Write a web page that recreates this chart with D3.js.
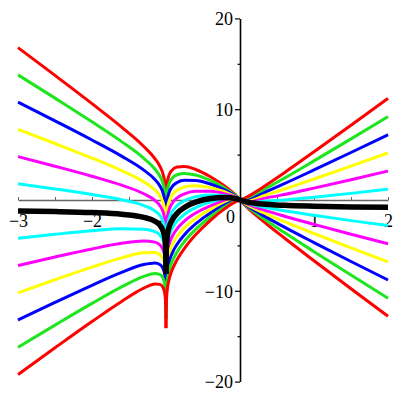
<!DOCTYPE html>
<html lang="en">
<head>
<meta charset="UTF-8">
<title>family of curves</title>
<script src="https://cdn.jsdelivr.net/npm/d3@7/dist/d3.min.js"></script>
<style>
    body { margin: 0; background: #fff; }
    text { font-family: "Liberation Serif", "Times New Roman", serif; font-size: 18px; fill: #000; }
</style>
</head>
<body>
<svg id="chart" width="400" height="400"></svg>
<script>
// sample abscissas (left branch x < -1, right branch x > -1)
var xValues = [-3, -2.5, -2, -1.6, -1.3, -1.15, -1.08, -1.04, -1.015, -1.004, -1.0003,
    -0.9997, -0.996, -0.985, -0.96, -0.92, -0.85, -0.75, -0.6, -0.4, -0.2, -0.05, 0, 0.1, 0.3, 0.6, 1, 1.5, 2];

// thick black curve
var black = [-1.22, -1.28, -1.39, -1.57, -1.91, -2.34, -2.81, -3.39, -4.28, -5.55, -8.11,
    -8.11, -5.50, -4.12, -3.05, -2.25, -1.47, -0.82, -0.24, 0.16, 0.28, 0.15, 0, -0.24, -0.44, -0.59, -0.69, -0.77, -0.81];

// curves that are high on the left and low on the right
var redA = [16.78, 13.72, 10.61, 8.03, 5.89, 4.56, 3.67, 2.85, 1.81, 0.47, -2.11,
    -2.11, 0.48, 1.79, 2.71, 3.27, 3.63, 3.68, 3.36, 2.56, 1.48, 0.45, 0, -0.84, -2.24, -4.19, -6.69, -9.77, -12.81];
var greenA = [13.78, 11.22, 8.61, 6.43, 4.59, 3.41, 2.59, 1.81, 0.80, -0.53, -3.11,
    -3.11, -0.52, 0.81, 1.75, 2.35, 2.78, 2.93, 2.76, 2.16, 1.28, 0.40, 0, -0.74, -1.94, -3.59, -5.69, -8.27, -10.81];
var blueA = [10.78, 8.72, 6.61, 4.83, 3.29, 2.26, 1.51, 0.77, -0.22, -1.53, -4.11,
    -4.11, -1.52, -0.18, 0.79, 1.43, 1.93, 2.18, 2.16, 1.76, 1.08, 0.35, 0, -0.64, -1.64, -2.99, -4.69, -6.77, -8.81];
var yellowA = [7.78, 6.22, 4.61, 3.23, 1.99, 1.11, 0.43, -0.27, -1.24, -2.54, -5.11,
    -5.11, -2.51, -1.17, -0.17, 0.51, 1.08, 1.43, 1.56, 1.36, 0.88, 0.30, 0, -0.54, -1.34, -2.39, -3.69, -5.27, -6.81];
var magentaA = [4.78, 3.72, 2.61, 1.63, 0.69, -0.04, -0.65, -1.31, -2.25, -3.54, -6.11,
    -6.11, -3.51, -2.15, -1.13, -0.41, 0.23, 0.68, 0.96, 0.96, 0.68, 0.25, 0, -0.44, -1.04, -1.79, -2.69, -3.77, -4.81];
var cyanA = [1.78, 1.22, 0.61, 0.03, -0.61, -1.19, -1.73, -2.35, -3.27, -4.55, -7.11,
    -7.11, -4.50, -3.14, -2.09, -1.33, -0.62, -0.07, 0.36, 0.56, 0.48, 0.20, 0, -0.34, -0.74, -1.19, -1.69, -2.27, -2.81];

// curves that are low on the left and high on the right
var cyanB = [-4.22, -3.78, -3.39, -3.17, -3.21, -3.49, -3.89, -4.43, -5.30, -6.55, -9.11,
    -9.11, -6.50, -5.11, -4.01, -3.17, -2.32, -1.57, -0.84, -0.24, 0.08, 0.10, 0, -0.14, -0.14, 0.01, 0.31, 0.73, 1.19];
var magentaB = [-7.22, -6.28, -5.39, -4.77, -4.51, -4.64, -4.97, -5.47, -6.31, -7.56, -10.11,
    -10.11, -7.49, -6.09, -4.97, -4.09, -3.17, -2.32, -1.44, -0.64, -0.12, 0.05, 0, -0.04, 0.16, 0.61, 1.31, 2.23, 3.19];
var yellowB = [-10.22, -8.78, -7.39, -6.37, -5.81, -5.79, -6.05, -6.51, -7.33, -8.56, -11.11,
    -11.11, -8.49, -7.08, -5.93, -5.01, -4.02, -3.07, -2.04, -1.04, -0.32, 0, 0, 0.06, 0.46, 1.21, 2.31, 3.73, 5.19];
var blueB = [-13.22, -11.28, -9.39, -7.97, -7.11, -6.94, -7.13, -7.55, -8.34, -9.57, -12.11,
    -12.11, -9.48, -8.06, -6.89, -5.93, -4.87, -3.82, -2.64, -1.44, -0.52, -0.05, 0, 0.16, 0.76, 1.81, 3.31, 5.23, 7.19];
var greenB = [-16.22, -13.78, -11.39, -9.57, -8.41, -8.09, -8.21, -8.59, -9.36, -10.57, -13.11,
    -13.11, -10.48, -9.05, -7.85, -6.85, -5.72, -4.57, -3.24, -1.84, -0.72, -0.10, 0, 0.26, 1.06, 2.41, 4.31, 6.73, 9.19];
var redB = [-19.22, -16.28, -13.39, -11.17, -9.71, -9.24, -9.29, -9.63, -10.37, -11.57, -14.11,
    -14.11, -11.48, -10.03, -8.81, -7.77, -6.57, -5.32, -3.84, -2.24, -0.92, -0.15, 0, 0.36, 1.36, 3.01, 5.31, 8.23, 11.19];

var xTicks = [-3, -2.5, -2, -1.5, -1, -0.5, 0, 0.5, 1, 1.5, 2];
var yTicks = [-20, -15, -10, -5, 0, 5, 10, 15, 20];

var svg = d3.select("#chart");

var x = d3.scaleLinear().domain([-3, 2]).range([18, 388]);
var y = d3.scaleLinear().domain([-20, 20]).range([381.6, 18.4]);

// x axis (ticks pointing up, labels below)
var xAxis = svg.append("g")
    .attr("transform", "translate(0," + y(0) + ")")
    .call(d3.axisBottom(x)
        .tickValues(xTicks)
        .tickSizeInner(-3)
        .tickSizeOuter(0)
        .tickPadding(14)
        .tickFormat(function (d) {
            return (d === 0 || d % 1 !== 0) ? "" : d3.format("d")(d);
        }));
xAxis.select(".domain").attr("stroke", "#666").attr("stroke-width", 1.3);
xAxis.selectAll(".tick line").attr("stroke", "#666");
xAxis.selectAll("text").style("font-size", "18px").attr("fill", "#000");

// y axis
var yAxis = svg.append("g")
    .attr("transform", "translate(" + x(0) + ",0)")
    .call(d3.axisLeft(y)
        .tickValues(yTicks)
        .tickSizeInner(5)
        .tickSizeOuter(0)
        .tickPadding(2)
        .tickFormat(function (d) {
            return (d % 10 === 0 && d !== 0) ? d3.format("d")(d) : "";
        }));
yAxis.select(".domain").attr("stroke", "#000").attr("stroke-width", 1.6);
yAxis.selectAll(".tick line")
    .attr("stroke-width", 1.2)
    .attr("x2", function (d) { return d % 10 === 0 ? -5 : -2.5; });
yAxis.selectAll("text").style("font-size", "18px").attr("fill", "#000").attr("dy", "0.35em");

svg.append("text")
    .attr("x", x(0) - 5)
    .attr("y", y(0) + 23)
    .attr("text-anchor", "end")
    .text("0");

// curves
var series = [
    {y: redA, color: "#ff0000", width: 3},
    {y: greenA, color: "#1ee61e", width: 3},
    {y: blueA, color: "#0000ff", width: 3},
    {y: yellowA, color: "#ffff00", width: 3},
    {y: magentaA, color: "#ff00ff", width: 3},
    {y: cyanA, color: "#00ffff", width: 3},
    {y: cyanB, color: "#00ffff", width: 3},
    {y: magentaB, color: "#ff00ff", width: 3},
    {y: yellowB, color: "#ffff00", width: 3},
    {y: blueB, color: "#0000ff", width: 3},
    {y: greenB, color: "#1ee61e", width: 3},
    {y: redB, color: "#ff0000", width: 3},
    {y: black, color: "#000000", width: 5.5}
];

var line = d3.line()
    .x(function (d) { return x(d[0]); })
    .y(function (d) { return y(d[1]); })
    .curve(d3.curveMonotoneX);

series.forEach(function (s) {
    var pts = xValues.map(function (v, i) { return [v, s.y[i]]; });
    var branches = [
        pts.filter(function (d) { return d[0] < -1; }),
        pts.filter(function (d) { return d[0] > -1; })
    ];
    branches.forEach(function (b) {
        svg.append("path")
            .datum(b)
            .attr("d", line)
            .attr("fill", "none")
            .attr("stroke", s.color)
            .attr("stroke-width", s.width)
            .attr("stroke-linejoin", "round");
    });
});
</script>
</body>
</html>
